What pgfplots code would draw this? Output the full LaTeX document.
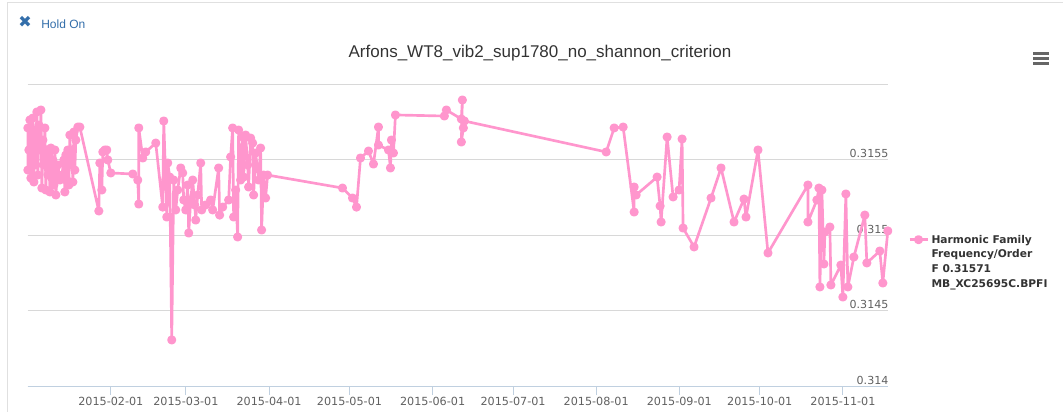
\documentclass[border=0pt]{standalone}
\usepackage{pgfplots}
\usepackage{pgfplotstable}
\pgfplotsset{compat=1.18}
\usepackage{fontspec}
\setmainfont{DejaVu Sans}
\newfontfamily\libsans{Liberation Sans}
\newfontfamily\dejavu{DejaVu Sans}
\definecolor{pinkline}{RGB}{255,150,205}
\definecolor{gridc}{RGB}{216,216,216}
\definecolor{axisc}{RGB}{192,208,224}
\definecolor{labc}{RGB}{96,96,96}
\definecolor{titlec}{RGB}{51,51,51}
\definecolor{holdc}{RGB}{51,110,170}
\definecolor{framec}{RGB}{224,224,224}
\definecolor{menuc}{RGB}{102,102,102}

% day = days since 2015-01-01, value = harmonic family frequency/order
\pgfplotstableread{
day value
0.07 0.315709
0.07 0.315430
0.45 0.315563
0.82 0.315762
1.19 0.315377
1.56 0.315629
1.94 0.315775
2.31 0.315351
2.68 0.315695
3.05 0.315464
3.43 0.315815
3.80 0.315397
4.17 0.315728
4.54 0.315563
4.92 0.315828
5.29 0.315311
5.66 0.315629
6.03 0.315464
6.41 0.315709
6.78 0.315298
7.15 0.315563
7.52 0.315397
7.90 0.315530
8.27 0.315285
8.64 0.315576
9.01 0.315377
9.39 0.315497
9.76 0.315331
10.13 0.315563
10.50 0.315265
11.25 0.315464
11.99 0.315364
12.74 0.315397
13.48 0.315497
13.85 0.315285
14.23 0.315530
14.60 0.315364
14.97 0.315563
15.34 0.315331
15.72 0.315662
16.09 0.315464
16.46 0.315563
16.83 0.315351
17.21 0.315682
17.58 0.315430
17.95 0.315629
18.70 0.315715
19.44 0.315715
26.52 0.315159
26.89 0.315477
27.64 0.315298
28.01 0.315550
28.75 0.315563
29.50 0.315563
29.87 0.315497
30.99 0.315411
39.18 0.315404
41.04 0.315364
41.42 0.315205
41.42 0.315709
42.91 0.315510
44.02 0.315550
47.75 0.315609
50.35 0.315185
50.73 0.315755
51.47 0.315364
51.85 0.315119
52.22 0.315477
52.96 0.315384
53.71 0.314305
54.45 0.315364
55.20 0.315166
55.94 0.315298
57.06 0.315444
57.80 0.315411
58.18 0.315232
58.92 0.315166
59.67 0.315331
60.04 0.315013
60.79 0.315232
61.53 0.315364
62.28 0.315199
62.65 0.315099
63.39 0.315265
64.51 0.315477
64.88 0.315166
66.37 0.315199
68.23 0.315232
68.98 0.315166
71.21 0.315444
71.58 0.315132
72.70 0.315185
74.94 0.315232
75.68 0.315517
76.43 0.315709
76.80 0.315119
77.54 0.315298
78.29 0.314987
78.66 0.315695
79.40 0.315364
80.15 0.315649
80.52 0.315384
81.27 0.315662
82.01 0.315464
82.38 0.315318
83.13 0.315642
83.87 0.315609
84.25 0.315265
84.99 0.315543
86.11 0.315364
86.85 0.315576
87.22 0.315033
87.97 0.315397
88.71 0.315245
89.46 0.315397
117.39 0.315311
121.12 0.315245
122.61 0.315185
124.10 0.315510
127.08 0.315556
128.94 0.315470
130.80 0.315715
130.80 0.315596
134.53 0.315563
135.27 0.315444
135.64 0.315629
136.39 0.315543
137.13 0.315795
155.38 0.315788
156.13 0.315828
161.71 0.315768
162.09 0.315894
161.71 0.315616
162.46 0.315709
162.83 0.315755
215.72 0.315550
218.70 0.315709
222.05 0.315715
226.15 0.315152
226.15 0.315318
226.89 0.315265
234.71 0.315384
235.83 0.315192
236.20 0.315086
238.44 0.315649
240.67 0.315252
242.91 0.315298
244.02 0.315636
244.39 0.315046
248.49 0.314921
254.82 0.315245
258.55 0.315444
263.39 0.315086
267.11 0.315238
267.86 0.315119
272.33 0.315563
276.05 0.314881
290.95 0.315331
290.95 0.315086
294.30 0.315232
295.05 0.315311
295.42 0.314656
296.16 0.315298
296.91 0.314808
297.28 0.315020
299.14 0.315053
299.52 0.314669
303.24 0.314801
303.98 0.314589
305.10 0.315272
305.84 0.314656
308.08 0.314854
312.17 0.315132
312.92 0.314815
317.76 0.314894
318.88 0.314682
320.74 0.315027
}\datatable

\begin{document}
\begin{tikzpicture}
\begin{scope}[x=0.75pt,y=0.75pt]
\path[use as bounding box] (0,0) rectangle (1063,412);
\draw[framec, line width=0.75pt] (7,0) -- (7,410) -- (1063,410);
\node[text=holdc, font=\dejavu\fontsize{12}{12}\selectfont, inner sep=0pt] at (25,390) {✖};
\node[anchor=west, text=holdc, font=\libsans\fontsize{9}{10}\selectfont, inner sep=0pt] at (41,388) {Hold On};
\node[text=titlec, font=\libsans\fontsize{12.75}{15}\selectfont, inner sep=0pt] at (540,359) {Arfons\_WT8\_vib2\_sup1780\_no\_shannon\_criterion};
\fill[menuc] (1033,357.5) rectangle (1049,360.5);
\fill[menuc] (1033,352.5) rectangle (1049,355.5);
\fill[menuc] (1033,347.5) rectangle (1049,350.5);
\end{scope}
\begin{axis}[
  at={(20.775pt,19.5pt)}, anchor=south west,
  scale only axis, width=645.2pt, height=226.5pt,
  xmin=0, xmax=320.8, ymin=0.314, ymax=0.316,
  clip=false,
  axis x line*=bottom, axis y line*=right,
  x axis line style={draw=axisc, line width=0.75pt, -},
  y axis line style={draw=none},
  tick align=outside,
  major tick length=6.75pt,
  xtick={31,59,90,120,151,181,212,243,273,304},
  xticklabels={2015-02-01,2015-03-01,2015-04-01,2015-05-01,2015-06-01,2015-07-01,2015-08-01,2015-09-01,2015-10-01,2015-11-01},
  xtick style={draw=axisc, line width=0.75pt},
  xticklabel style={font=\fontsize{8.4}{10}\selectfont, text=labc, yshift=2.25pt},
  ytick={0.314,0.3145,0.315,0.3155,0.316},
  yticklabels={0.314,0.3145,0.315,0.3155,{}},
  ytick style={draw=none},
  yticklabel style={anchor=south east, font=\fontsize{8.3}{10}\selectfont, text=labc, inner sep=1pt, xshift=-5.25pt},
  ymajorgrids, grid style={gridc, line width=0.75pt},
  legend style={draw=none, fill=none, at={(axis description cs:1.0232,0.51)}, anchor=north west,
    font=\bfseries\fontsize{8}{11}\selectfont, text=titlec, inner sep=0pt,
    cells={align=left, anchor=base west}},
  legend image code/.code={\draw[mark repeat=2,mark phase=2,#1] plot coordinates {(0pt,35.5pt) (6.75pt,35.5pt) (13.5pt,35.5pt)};},
]
\addplot[color=pinkline, line width=2pt, line join=round, mark=*, mark size=2.4pt, mark options={fill=pinkline, draw=none}]
  table[x=day, y=value] {\datatable};
\addlegendentry{Harmonic Family\\Frequency/Order\\F 0.31571\\MB\_XC25695C.BPFI}
\end{axis}
\end{tikzpicture}
\end{document}
